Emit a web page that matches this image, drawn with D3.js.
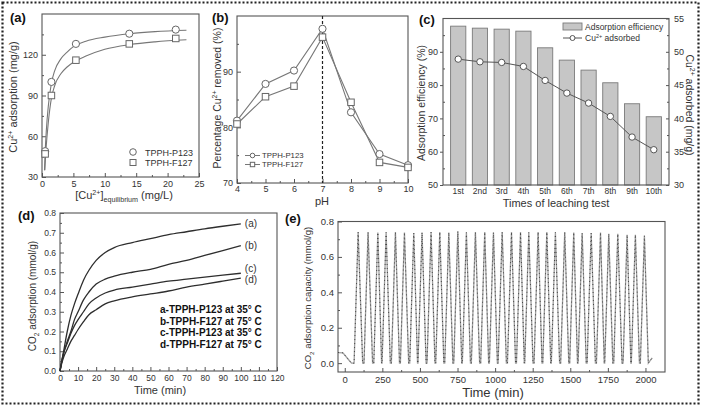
<!DOCTYPE html>
<html>
<head>
<meta charset="utf-8">
<script src="https://cdn.jsdelivr.net/npm/d3@7"></script>
<style>
  body { margin: 0; background: #fff; }
  text { font-family: "Liberation Sans", Arial, sans-serif; fill: #333; }
</style>
</head>
<body>
<svg id="fig" width="702" height="407"></svg>
<script>
// ---- panel (a): adsorption isotherm
let isoConc = [0.5, 1.5, 5.4, 13.9, 21.3];
let isoP123 = [49, 100, 128, 135.5, 138.5];
let isoF127 = [47, 90, 116, 128, 132];
let fitConc = [0.4, 0.5, 0.7, 1.0, 1.5, 2, 3, 4, 5, 7, 10, 14, 18, 23];
let fitP123 = [35, 48, 65, 82, 99, 108, 117, 122, 126, 130, 133, 135.5, 137, 138];
let fitConcF = [0.45, 0.6, 0.8, 1.0, 1.5, 2, 3, 4, 5, 7, 10, 14, 18, 23];
let fitF127 = [35, 48, 60, 70, 88, 97, 106, 111, 114.5, 119, 124, 127.5, 129.5, 131];

// ---- panel (b): pH effect
let pH = [4, 5, 6, 7, 8, 9, 10];
let removedP123 = [81.2, 87.8, 90.2, 97.7, 82.7, 75.2, 73.2];
let removedF127 = [80.6, 85.5, 87.4, 96.2, 84.5, 73.7, 72.8];

// ---- panel (c): leaching tests
let leachRuns = ["1st", "2nd", "3rd", "4th", "5th", "6th", "7th", "8th", "9th", "10th"];
let efficiency = [97.7, 97.1, 96.8, 96.2, 91.2, 87.5, 84.5, 80.7, 74.4, 70.5];
let cuAdsorbed = [48.9, 48.5, 48.4, 47.8, 45.7, 43.8, 42.3, 40.3, 37.2, 35.3];

// ---- panel (d): CO2 uptake kinetics
let kinTime = [0, 1, 2, 4, 6, 8, 10, 13, 16, 20, 25, 30, 40, 50, 60, 70, 80, 90, 100];
let kinA = [0, 0.05, 0.10, 0.20, 0.28, 0.34, 0.39, 0.46, 0.51, 0.56, 0.60, 0.625, 0.65, 0.67, 0.69, 0.705, 0.72, 0.733, 0.745];
let kinB = [0, 0.05, 0.09, 0.15, 0.20, 0.26, 0.30, 0.36, 0.40, 0.44, 0.465, 0.48, 0.50, 0.515, 0.54, 0.56, 0.585, 0.61, 0.635];
let kinC = [0, 0.05, 0.09, 0.14, 0.19, 0.23, 0.26, 0.30, 0.34, 0.37, 0.395, 0.41, 0.425, 0.44, 0.455, 0.465, 0.475, 0.485, 0.495];
let kinD = [0, 0.04, 0.07, 0.11, 0.15, 0.18, 0.21, 0.25, 0.285, 0.31, 0.34, 0.355, 0.375, 0.39, 0.405, 0.425, 0.44, 0.455, 0.47];
let kinNames = ["(a)", "(b)", "(c)", "(d)"];
let kinLegend = ["a-TPPH-P123 at 35\u00b0 C", "b-TPPH-F127 at 75\u00b0 C", "c-TPPH-P123 at 35\u00b0 C", "d-TPPH-F127 at 75\u00b0 C"];

// ---- panel (e): cycling
let startTime = [-45, -12, 20, 45, 62];
let startValue = [0.06, 0.058, 0.025, 0, 0];
let peakTimes = [89, 155, 220, 275, 337, 397, 459, 514, 574, 632, 692, 752, 809, 869, 931, 989, 1047,
  1109, 1169, 1224, 1286, 1344, 1401, 1463, 1523, 1579, 1639, 1701, 1756, 1816, 1878, 1933, 1993];
let peakValues = [0.74, 0.74, 0.738, 0.738, 0.74, 0.738, 0.735, 0.738, 0.74, 0.74, 0.738, 0.745, 0.738, 0.74, 0.74, 0.738, 0.74,
  0.74, 0.74, 0.738, 0.74, 0.74, 0.738, 0.74, 0.738, 0.735, 0.735, 0.738, 0.73, 0.73, 0.725, 0.725, 0.72];
let troughTimes = [122, 188, 248, 306, 367, 428, 487, 544, 603, 662, 722, 781, 839, 900, 960, 1018, 1078,
  1139, 1197, 1255, 1315, 1373, 1432, 1493, 1551, 1609, 1670, 1729, 1786, 1847, 1906, 1963, 2022];
let endTime = [2045];
let endValue = [0.03];

let axisColor = "#555";
let svg = d3.select("#fig");

// dotted frame round the whole figure
svg.append("rect").attr("x", 2.5).attr("y", 2.5).attr("width", 696).attr("height", 401)
  .attr("fill", "none").attr("stroke", "#222").attr("stroke-width", 2.2).attr("stroke-dasharray", "2 2");

// draws box + inward ticks
function drawAxes(x, y, o) {
  let g = svg.append("g");
  let [x0, x1] = x.range();
  let [y0, y1] = y.range();
  let fs = o.fontSize || 9;
  let bottom = g.append("g").attr("transform", `translate(0,${y0})`)
    .call(o.xAxis.tickSizeInner(-4).tickSizeOuter(0).tickPadding(o.xPad || 4));
  bottom.selectAll("text").attr("font-size", fs);
  if (o.xMinor) {
    g.append("g").attr("transform", `translate(0,${y0})`)
      .call(d3.axisBottom(x).tickValues(o.xMinor).tickSize(-2).tickFormat(""));
  }
  let left = g.append("g").attr("transform", `translate(${x0},0)`)
    .call(d3.axisLeft(y).tickValues(o.yTicks).tickFormat(o.yFormat || d3.format("d")).tickSizeInner(-4).tickSizeOuter(0).tickPadding(4));
  left.selectAll("text").attr("font-size", fs);
  if (o.yMinor) {
    g.append("g").attr("transform", `translate(${x0},0)`)
      .call(d3.axisLeft(y).tickValues(o.yMinor).tickSize(-2).tickFormat(""));
  }
  g.selectAll(".domain").remove();
  g.selectAll("line").attr("stroke", axisColor);
  g.selectAll("text").attr("fill", "#444");
  g.append("rect").attr("x", x0).attr("y", y1).attr("width", x1 - x0).attr("height", y0 - y1)
    .attr("fill", "none").attr("stroke", axisColor).attr("stroke-width", 1.1);
  return g;
}

function panelLabel(t, x, y) {
  svg.append("text").attr("x", x).attr("y", y).attr("font-size", 13).attr("font-weight", "bold")
    .style("fill", "#111").text(t);
}

// title with superscript/subscript pieces: parts = [[text, kind]]
function richText(sel, parts, fs) {
  parts.forEach(([t, kind]) => {
    let ts = sel.append("tspan").text(t);
    if (kind === "sup") ts.attr("font-size", fs * 0.65).attr("dy", -fs * 0.4);
    else if (kind === "sub") ts.attr("font-size", fs * 0.65).attr("dy", fs * 0.3);
    else if (kind === "back") ts.attr("dy", fs * 0.4);
    else if (kind === "up") ts.attr("dy", -fs * 0.3);
  });
}

function squares(sel, data, x, y, size) {
  sel.selectAll(null).data(data).enter().append("rect")
    .attr("x", d => x(d[0]) - size / 2).attr("y", d => y(d[1]) - size / 2)
    .attr("width", size).attr("height", size)
    .attr("fill", "#fff").attr("stroke", "#666").attr("stroke-width", 1);
}
function circles(sel, data, x, y, r, stroke) {
  sel.selectAll(null).data(data).enter().append("circle")
    .attr("cx", d => x(d[0])).attr("cy", d => y(d[1])).attr("r", r)
    .attr("fill", "#fff").attr("stroke", stroke || "#666").attr("stroke-width", 1);
}

// ================= (a)
let xA = d3.scaleLinear().domain([0, 25]).range([42, 199]);
let yA = d3.scaleLinear().domain([30, 150]).range([177, 14]);
drawAxes(xA, yA, {
  xAxis: d3.axisBottom(xA).tickValues([0, 5, 10, 15, 20, 25]),
  xMinor: [2.5, 7.5, 12.5, 17.5, 22.5],
  yTicks: [30, 60, 90, 120], yMinor: [45, 75, 105, 135]
});
let gA = svg.append("g");
let lineA = d3.line().curve(d3.curveMonotoneX).x(d => xA(d[0])).y(d => yA(d[1]));
gA.append("path").attr("d", lineA(d3.zip(fitConc, fitP123))).attr("fill", "none").attr("stroke", "#777").attr("stroke-width", 1.1);
gA.append("path").attr("d", lineA(d3.zip(fitConcF, fitF127))).attr("fill", "none").attr("stroke", "#777").attr("stroke-width", 1.1);
circles(gA, d3.zip(isoConc, isoP123), xA, yA, 3.6);
squares(gA, d3.zip(isoConc, isoF127), xA, yA, 6.5);
gA.append("circle").attr("cx", 133).attr("cy", 152).attr("r", 3.3).attr("fill", "#fff").attr("stroke", "#666");
gA.append("rect").attr("x", 130).attr("y", 159.5).attr("width", 6).attr("height", 6).attr("fill", "#fff").attr("stroke", "#666");
gA.append("text").attr("x", 145).attr("y", 155.5).attr("font-size", 9).text("TPPH-P123");
gA.append("text").attr("x", 145).attr("y", 166).attr("font-size", 9).text("TPPH-F127");
richText(svg.append("text").attr("transform", "translate(17,97) rotate(-90)").attr("text-anchor", "middle").attr("font-size", 11),
  [["Cu"], ["2+", "sup"], [" adsorption (mg/g)", "back"]], 11);
richText(svg.append("text").attr("x", 124).attr("y", 199).attr("text-anchor", "middle").attr("font-size", 11),
  [["[Cu"], ["2+", "sup"], ["]", "back"], ["equilibrium", "sub"], [" (mg/L)", "up"]], 11);
panelLabel("(a)", 10, 22);

// ================= (b)
let xB = d3.scaleLinear().domain([4, 10]).range([237, 408]);
let yB = d3.scaleLinear().domain([70, 100]).range([183, 16]);
drawAxes(xB, yB, {
  xAxis: d3.axisBottom(xB).tickValues(pH).tickFormat(d3.format("d")),
  xMinor: [4.5, 5.5, 6.5, 7.5, 8.5, 9.5], xPad: 3,
  yTicks: [70, 80, 90], yMinor: [75, 85, 95]
});
let gB = svg.append("g");
gB.append("line").attr("x1", xB(7)).attr("x2", xB(7)).attr("y1", yB(100)).attr("y2", yB(70))
  .attr("stroke", "#222").attr("stroke-width", 1.2).attr("stroke-dasharray", "3 2");
let lineB = d3.line().x(d => xB(d[0])).y(d => yB(d[1]));
gB.append("path").attr("d", lineB(d3.zip(pH, removedP123))).attr("fill", "none").attr("stroke", "#777").attr("stroke-width", 1.1);
gB.append("path").attr("d", lineB(d3.zip(pH, removedF127))).attr("fill", "none").attr("stroke", "#777").attr("stroke-width", 1.1);
circles(gB, d3.zip(pH, removedP123), xB, yB, 3.6);
squares(gB, d3.zip(pH, removedF127), xB, yB, 6.5);
[["TPPH-P123", 155.5], ["TPPH-F127", 164.5]].forEach(([t, yy], i) => {
  gB.append("line").attr("x1", 245).attr("x2", 260).attr("y1", yy).attr("y2", yy).attr("stroke", "#777");
  if (i === 0) gB.append("circle").attr("cx", 252.5).attr("cy", yy).attr("r", 2.3).attr("fill", "#fff").attr("stroke", "#666");
  else gB.append("rect").attr("x", 250.3).attr("y", yy - 2.2).attr("width", 4.4).attr("height", 4.4).attr("fill", "#fff").attr("stroke", "#666");
  gB.append("text").attr("x", 262).attr("y", yy + 2.8).attr("font-size", 7.8).text(t);
});
richText(svg.append("text").attr("transform", "translate(221,98) rotate(-90)").attr("text-anchor", "middle").attr("font-size", 10.5),
  [["Percentage Cu"], ["2+", "sup"], [" removed (%)", "back"]], 10.5);
svg.append("text").attr("x", 322).attr("y", 205).attr("text-anchor", "middle").attr("font-size", 11).text("pH");
panelLabel("(b)", 212, 22);

// ================= (c)
let xC = d3.scaleBand().domain(leachRuns).range([443, 669]).paddingInner(0.3).paddingOuter(0.35);
let yC = d3.scaleLinear().domain([50, 100]).range([185, 18.5]);
let yC2 = d3.scaleLinear().domain([30, 55]).range([185, 18.5]);
let gC = svg.append("g");
gC.selectAll("rect.bar").data(d3.zip(leachRuns, efficiency)).enter().append("rect")
  .attr("x", d => xC(d[0])).attr("y", d => yC(d[1]))
  .attr("width", xC.bandwidth()).attr("height", d => yC(50) - yC(d[1]))
  .attr("fill", "#c6c6c6").attr("stroke", "#7a7a7a").attr("stroke-width", 0.9);
let lineC = d3.line().x(d => xC(d[0]) + xC.bandwidth() / 2).y(d => yC2(d[1]));
gC.append("path").attr("d", lineC(d3.zip(leachRuns, cuAdsorbed))).attr("fill", "none").attr("stroke", "#555").attr("stroke-width", 1);
gC.selectAll("circle").data(d3.zip(leachRuns, cuAdsorbed)).enter().append("circle")
  .attr("cx", d => xC(d[0]) + xC.bandwidth() / 2).attr("cy", d => yC2(d[1])).attr("r", 3.2)
  .attr("fill", "#fff").attr("stroke", "#555").attr("stroke-width", 1);
let axC = svg.append("g");
axC.append("g").attr("transform", "translate(0,185)")
  .call(d3.axisBottom(xC).tickSize(0).tickPadding(3))
  .selectAll("text").attr("font-size", 8.5);
axC.append("g").attr("transform", "translate(443,0)")
  .call(d3.axisLeft(yC).tickValues([50, 60, 70, 80, 90]).tickSizeInner(3).tickSizeOuter(0).tickPadding(2))
  .selectAll("text").attr("font-size", 9);
axC.append("g").attr("transform", "translate(443,0)")
  .call(d3.axisLeft(yC).tickValues([55, 65, 75, 85, 95]).tickSize(-2).tickFormat(""));
axC.append("g").attr("transform", "translate(669,0)")
  .call(d3.axisRight(yC2).tickValues([30, 35, 40, 45, 50, 55]).tickSizeInner(-3).tickSizeOuter(0).tickPadding(5))
  .selectAll("text").attr("font-size", 9);
axC.append("g").attr("transform", "translate(669,0)")
  .call(d3.axisRight(yC2).tickValues([32.5, 37.5, 42.5, 47.5, 52.5]).tickSize(-2).tickFormat(""));
axC.selectAll(".domain").remove();
axC.selectAll("line").attr("stroke", axisColor);
axC.selectAll("text").attr("fill", "#444");
axC.append("rect").attr("x", 443).attr("y", 18.5).attr("width", 226).attr("height", 166.5)
  .attr("fill", "none").attr("stroke", axisColor).attr("stroke-width", 1.1);
gC.append("rect").attr("x", 563).attr("y", 23).attr("width", 19).attr("height", 7)
  .attr("fill", "#c6c6c6").attr("stroke", "#7a7a7a").attr("stroke-width", 0.9);
gC.append("text").attr("x", 585).attr("y", 30).attr("font-size", 8.5).text("Adsorption efficiency");
gC.append("line").attr("x1", 563).attr("x2", 582).attr("y1", 38).attr("y2", 38).attr("stroke", "#555");
gC.append("circle").attr("cx", 572.5).attr("cy", 38).attr("r", 2.5).attr("fill", "#fff").attr("stroke", "#555");
richText(gC.append("text").attr("x", 585).attr("y", 41).attr("font-size", 8.5),
  [["Cu"], ["2+", "sup"], [" adsorbed", "back"]], 8.5);
svg.append("text").attr("transform", "translate(425,103) rotate(-90)").attr("text-anchor", "middle")
  .attr("font-size", 10.5).text("Adsorption efficiency (%)");
richText(svg.append("text").attr("transform", "translate(686,105) rotate(90)").attr("text-anchor", "middle").attr("font-size", 10.5),
  [["Cu"], ["2+", "sup"], [" adsorbed (mg/g)", "back"]], 10.5);
svg.append("text").attr("x", 556).attr("y", 207).attr("text-anchor", "middle").attr("font-size", 11)
  .text("Times of leaching test");
panelLabel("(c)", 419, 24);

// ================= (d)
let xD = d3.scaleLinear().domain([0, 120]).range([60, 277]);
let yD = d3.scaleLinear().domain([0, 0.8]).range([371, 213]);
drawAxes(xD, yD, {
  xAxis: d3.axisBottom(xD).tickValues(d3.range(0, 121, 10)).tickFormat(d3.format("d")),
  xMinor: d3.range(5, 120, 10),
  yTicks: [0, 0.1, 0.2, 0.3, 0.4, 0.5, 0.6, 0.7, 0.8], yFormat: d3.format(".1f"),
  yMinor: [0.05, 0.15, 0.25, 0.35, 0.45, 0.55, 0.65, 0.75],
  fontSize: 8.5
});
let gD = svg.append("g");
let lineD = d3.line().curve(d3.curveMonotoneX).x(d => xD(d[0])).y(d => yD(d[1]));
let kinSeries = [kinA, kinB, kinC, kinD];
kinSeries.forEach((s, i) => {
  gD.append("path").attr("d", lineD(d3.zip(kinTime, s))).attr("fill", "none")
    .attr("stroke", "#2e2e2e").attr("stroke-width", 1.3);
  gD.append("text").attr("x", xD(100) + 4).attr("y", yD(s[s.length - 1]) + [3, 3, -1, 5][i])
    .attr("font-size", 10).text(kinNames[i]);
});
kinLegend.forEach((t, i) => {
  gD.append("text").attr("x", 160).attr("y", 313 + i * 11.7).attr("font-size", 10)
    .attr("font-family", "Lato, 'Open Sans', sans-serif").attr("font-weight", "bold").style("fill", "#111").text(t);
});
richText(svg.append("text").attr("transform", "translate(36,296) rotate(-90)").attr("text-anchor", "middle").attr("font-size", 10),
  [["CO"], ["2", "sub"], [" adsorption (mmol/g)", "up"]], 10);
svg.append("text").attr("x", 160).attr("y", 394).attr("text-anchor", "middle").attr("font-size", 11).text("Time (min)");
panelLabel("(d)", 18, 220);

// ================= (e)
let xE = d3.scaleLinear().domain([-45, 2130]).range([338, 665]);
let yE = d3.scaleLinear().domain([-0.05, 0.8]).range([372, 221.5]);
drawAxes(xE, yE, {
  xAxis: d3.axisBottom(xE).tickValues(d3.range(0, 2001, 250)).tickFormat(d3.format("d")),
  xMinor: d3.range(125, 2000, 250),
  yTicks: [0, 0.2, 0.4, 0.6, 0.8], yFormat: d3.format(".1f"),
  yMinor: [0.1, 0.3, 0.5, 0.7],
  fontSize: 9.5
});
let cyclePts = d3.zip(startTime, startValue);
peakTimes.forEach((p, i) => {
  cyclePts.push([p - 27, 0]);
  cyclePts.push([p, peakValues[i]]);
  cyclePts.push([troughTimes[i] - 3, 0]);
});
cyclePts = cyclePts.concat(d3.zip(endTime, endValue));
let lineE = d3.line().x(d => xE(d[0])).y(d => yE(d[1]));
let gE = svg.append("g");
gE.append("path").attr("d", lineE(cyclePts)).attr("fill", "none").attr("stroke", "#a0a0a0").attr("stroke-width", 1.3);
gE.append("path").attr("d", lineE(cyclePts)).attr("fill", "none").attr("stroke", "#444").attr("stroke-width", 1)
  .attr("stroke-dasharray", "1 3");
richText(svg.append("text").attr("transform", "translate(311,298) rotate(-90)").attr("text-anchor", "middle").attr("font-size", 9.5),
  [["CO"], ["2", "sub"], [" adsorption capacity (mmol/g)", "up"]], 9.5);
svg.append("text").attr("x", 493).attr("y", 397).attr("text-anchor", "middle").attr("font-size", 13).text("Time (min)");
panelLabel("(e)", 285, 223);
</script>
</body>
</html>
